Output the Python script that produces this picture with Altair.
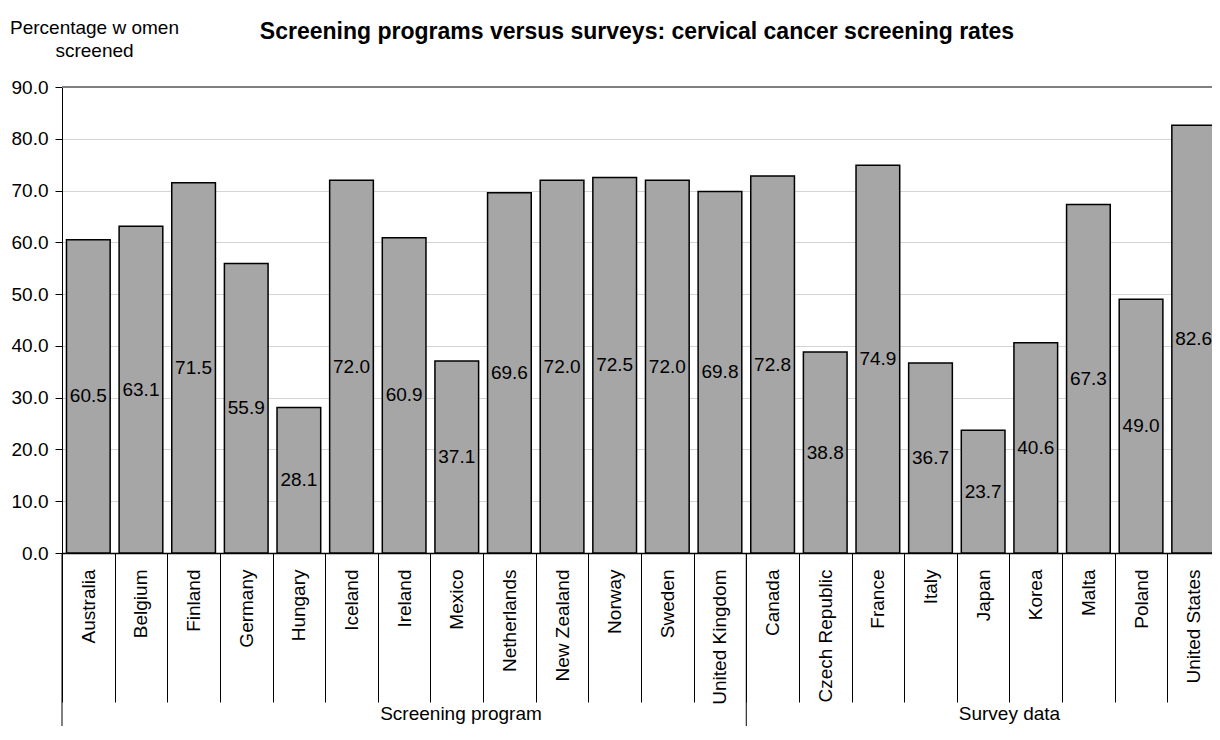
import altair as alt
import pandas as pd

countries = ["Australia", "Belgium", "Finland", "Germany", "Hungary", "Iceland",
             "Ireland", "Mexico", "Netherlands", "New Zealand", "Norway", "Sweden",
             "United Kingdom", "Canada", "Czech Republic", "France", "Italy", "Japan",
             "Korea", "Malta", "Poland", "United States"]
rates = [60.5, 63.1, 71.5, 55.9, 28.1, 72.0, 60.9, 37.1, 69.6, 72.0, 72.5, 72.0,
         69.8, 72.8, 38.8, 74.9, 36.7, 23.7, 40.6, 67.3, 49.0, 82.6]
group_names = ["Screening program", "Survey data"]
group_first = ["Australia", "Canada"]
group_label_at = ["Mexico", "Korea"]
y_ticks = [0, 10, 20, 30, 40, 50, 60, 70, 80, 90]

title_text = "Screening programs versus surveys: cervical cancer screening rates"
y_title = ["Percentage w omen", "screened"]

FONT = "Liberation Sans"
W, H = 1150, 466
BAND_RANGE = 1158
BOTTOM = 173

df = pd.DataFrame({"country": countries, "rate": rates})
div_df = pd.DataFrame({"country": group_first})
g1_df = pd.DataFrame({"country": [group_label_at[0]], "group": [group_names[0]]})
g2_df = pd.DataFrame({"country": [group_label_at[1]], "group": [group_names[1]]})

x_scale = alt.Scale(paddingInner=0, paddingOuter=0, range=[0, BAND_RANGE])
x_axis = alt.Axis(title=None, labelAngle=-90, labelFontSize=19, labelFont=FONT,
                  labelColor="black", tickBand="extent", tickSize=149,
                  tickColor="black", tickWidth=1, domainColor="black",
                  domainWidth=1.5, labelPadding=-133, grid=False,
                  labelOverlap=False)
y_scale = alt.Scale(domain=[0, 90], nice=False, zero=True)
y_axis = alt.Axis(title=y_title, titleAngle=0, titleX=32, titleY=-69,
                  titleAlign="center", titleBaseline="top", titleFontSize=19,
                  titleFontWeight="normal", titleFont=FONT, titleColor="black",
                  titleLineHeight=23, values=y_ticks, format=".1f",
                  labelFontSize=19, labelFont=FONT, labelColor="black",
                  tickSize=7, tickColor="black", domainColor="black",
                  gridColor="#D4D4D4", labelPadding=7)


def xenc(band=0.5):
    return alt.X("country:N", sort=countries, scale=x_scale, axis=x_axis,
                 bandPosition=band)


bars = alt.Chart(df).mark_bar(
    fill="#A6A6A6", stroke="black", strokeWidth=1.5, clip=True,
    width=alt.RelativeBandSize(0.83),
).encode(x=xenc(), y=alt.Y("rate:Q", scale=y_scale, axis=y_axis))

labels = alt.Chart(df).transform_calculate(mid="datum.rate / 2").mark_text(
    font=FONT, fontSize=19, color="black", baseline="middle", align="center",
).encode(
    x=xenc(),
    y=alt.Y("mid:Q", scale=y_scale, axis=y_axis),
    text=alt.Text("rate:Q", format=".1f"),
)

top_line = alt.Chart(df).mark_rule(color="#808080", strokeWidth=2).encode(
    y=alt.datum(90)
)

dividers = alt.Chart(div_df).mark_rule(color="black", strokeWidth=1).encode(
    x=xenc(0),
    y=alt.value(H),
    y2=alt.value(H + BOTTOM),
)

g1 = alt.Chart(g1_df).mark_text(
    font=FONT, fontSize=19, color="black", baseline="middle", align="center"
).encode(x=xenc(0.58), y=alt.value(H + 161), text="group:N")

g2 = alt.Chart(g2_df).mark_text(
    font=FONT, fontSize=19, color="black", baseline="middle", align="center"
).encode(x=xenc(0.0), y=alt.value(H + 161), text="group:N")

chart = alt.layer(bars, top_line, labels, dividers, g1, g2).properties(
    width=W, height=H,
    autosize=alt.AutoSizeParams(type="none"),
    padding={"left": 54, "top": 79, "right": 0, "bottom": BOTTOM},
    title=alt.TitleParams(title_text, font=FONT, fontSize=23, fontWeight="bold",
                          color="black", anchor="middle", frame="group",
                          offset=-26),
).configure_view(stroke=None).configure(background="white")

chart.save("out.html", embed_options={"renderer": "svg", "actions": False})
